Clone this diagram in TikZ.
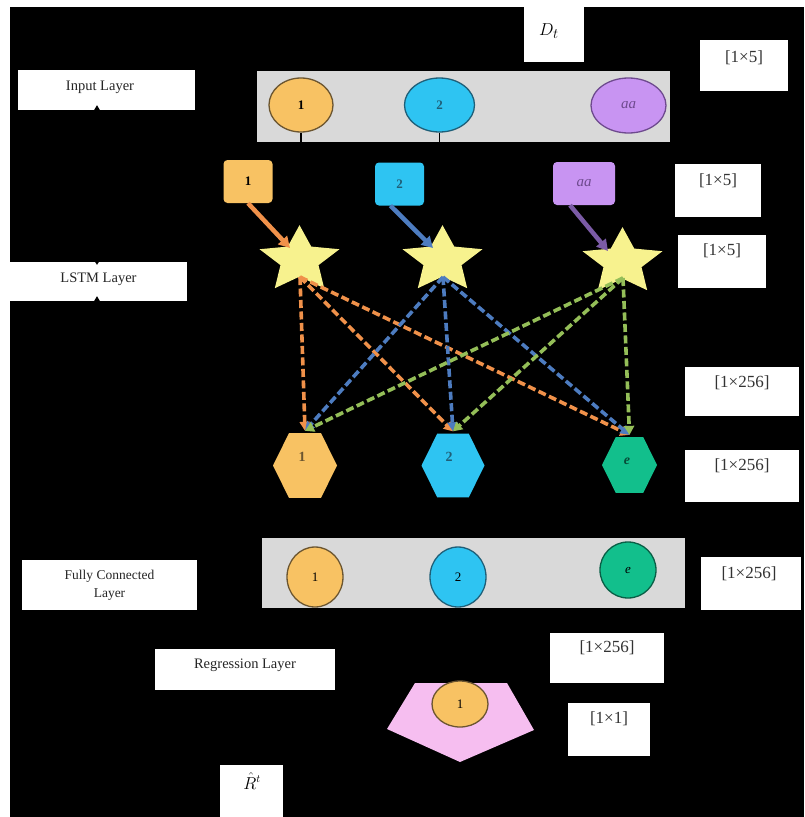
\documentclass[tikz,border=0pt]{standalone}
\usepackage{fontspec}
\setmainfont{Liberation Serif}
\usetikzlibrary{shapes.geometric,arrows.meta}
\definecolor{orF}{HTML}{F8C263}
\definecolor{orD}{HTML}{6B5530}
\definecolor{cyF}{HTML}{2EC4F2}
\definecolor{cyD}{HTML}{1F5F78}
\definecolor{puF}{HTML}{C894F2}
\definecolor{puD}{HTML}{6E4A8E}
\definecolor{grF}{HTML}{12BF8C}
\definecolor{piF}{HTML}{F6BEF0}
\definecolor{stF}{HTML}{F7F28E}
\definecolor{gyF}{HTML}{D9D9D9}
\definecolor{arO}{HTML}{F0914A}
\definecolor{arB}{HTML}{4D7CC0}
\definecolor{arP}{HTML}{7B5BA6}
\definecolor{arG}{HTML}{94BE58}
\begin{document}
\begin{tikzpicture}[x=1pt,y=-1pt,
  wbox/.style={fill=white,inner sep=0pt},
  txt/.style={inner sep=0pt,font=\fontsize{17}{19}\selectfont,text=black!80},
  lyr/.style={inner sep=0pt,font=\fontsize{14.5}{18}\selectfont,align=center,text=black!85},
  ell/.style={ellipse,inner sep=0pt,line width=1.3pt,font=\fontsize{13}{15}\selectfont\bfseries},
  sq/.style={rounded corners=4pt,inner sep=0pt,minimum width=49pt,minimum height=43pt,font=\fontsize{13}{15}\selectfont\bfseries},
  gbox/.style={fill=gyF,inner sep=0pt},
  fat/.style={line width=4.5pt,-{Triangle[length=11pt,width=12pt]}},
  dsh/.style={line width=3.6pt,dash pattern=on 8pt off 3.5pt,-{Triangle[length=9pt,width=10pt]}},
  hex/.style={regular polygon,regular polygon sides=6,inner sep=0pt,transform shape},
  starsh/.style={star,star points=5,star point ratio=2.1,minimum size=84pt,inner sep=0pt,fill=stF,transform shape}
]
\useasboundingbox (0,0) rectangle (804,817);
\fill[white] (0,0) rectangle (804,817);
\fill[black] (10,7) rectangle (804,817);

% ---- label boxes ----
\node[wbox,minimum width=177pt,minimum height=40pt] (inlayer) at (106.5,90) {};
\node[lyr] (inlayert) at (100,87) {Input Layer};
\fill[black] ([xshift=-12.5pt]inlayer.south) -- ([xshift=-9.5pt,yshift=5pt]inlayer.south) -- ([xshift=-6.5pt]inlayer.south) -- cycle;

\node[wbox,minimum width=60pt,minimum height=55pt] (dt) at (553.5,34.5) {};
\node[inner sep=0pt,font=\fontsize{19}{21}\selectfont] (dtt) at (549,31) {$D_t$};

\node[wbox,minimum width=88pt,minimum height=51pt] (b1) at (744,65.5) {};
\node[txt] (b1t) at (744,58) {[1×5]};

\node[wbox,minimum width=86pt,minimum height=53pt] (b2) at (718,190) {};
\node[txt] (b2t) at (718,181) {[1×5]};

\node[wbox,minimum width=88pt,minimum height=53pt] (b3) at (722,261.5) {};
\node[txt] (b3t) at (722,251) {[1×5]};

\node[wbox,minimum width=177pt,minimum height=39pt] (lstm) at (98.5,281.5) {};
\node[lyr] (lstmt) at (98.5,279) {LSTM Layer};
\fill[black] ([xshift=-4.5pt]lstm.south) -- ([xshift=-1.5pt,yshift=5pt]lstm.south) -- ([xshift=1.5pt]lstm.south) -- cycle;
\fill[black] ([xshift=-3.5pt]lstm.north) -- ([xshift=-1.5pt,yshift=-3pt]lstm.north) -- ([xshift=0.5pt]lstm.north) -- cycle;

\node[wbox,minimum width=114pt,minimum height=49pt] (b4) at (742,391.5) {};
\node[txt] (b4t) at (742,383) {[1×256]};

\node[wbox,minimum width=114pt,minimum height=52pt] (b5) at (742,476) {};
\node[txt] (b5t) at (742,466) {[1×256]};

\node[wbox,minimum width=175pt,minimum height=50pt] (fc) at (109.5,585) {};
\node[lyr,font=\fontsize{13.5}{18}\selectfont] (fct) at (109.5,585) {Fully Connected\\Layer};

\node[wbox,minimum width=100pt,minimum height=53pt] (b6) at (751,583.5) {};
\node[txt] (b6t) at (749,574) {[1×256]};

\node[wbox,minimum width=180pt,minimum height=41pt] (reg) at (245,669.5) {};
\node[lyr] (regt) at (245,665) {Regression Layer};

\node[wbox,minimum width=114pt,minimum height=50pt] (b7) at (607,658) {};
\node[txt] (b7t) at (607,648) {[1×256]};

\node[wbox,minimum width=82pt,minimum height=53pt] (b8) at (609,729.5) {};
\node[txt] (b8t) at (609,719) {[1×1]};

\node[wbox,minimum width=63pt,minimum height=52pt] (rh) at (251.5,791) {};
\node[inner sep=0pt,font=\fontsize{16}{18}\selectfont] (rht) at (252,781) {$\hat{R}^{t}$};

% ---- input layer ----
\node[gbox,minimum width=413pt,minimum height=71pt] (inrect) at (463.5,106.5) {};
\node[ell,fill=orF,draw=orD,minimum width=64pt,minimum height=54pt] (i1) at (301,105) {1};
\node[ell,fill=cyF,draw=cyD,minimum width=70pt,minimum height=54pt,text=cyD] (i2) at (439.5,105) {2};
\node[ell,fill=puF,draw=puD,minimum width=75pt,minimum height=55pt,text=puD,font=\fontsize{15}{17}\selectfont\itshape] (i3) at (628.5,105.5) {aa};
\draw[line width=1.2pt] (i1.south) -- (i1.south |- inrect.south);
\draw[line width=1.2pt] (i2.south) -- (i2.south |- inrect.south);
\draw[line width=1.2pt] ([xshift=-4pt,yshift=-5pt]inrect.south east -| i3.south) -- ++(0,9);

% ---- small squares ----
\node[sq,fill=orF] (q1) at (248,181.5) {1};
\node[sq,fill=cyF,text=cyD] (q2) at (399.5,184) {2};
\node[sq,fill=puF,text=puD,minimum width=62pt,font=\fontsize{15}{17}\selectfont\itshape] (q3) at (584,183.5) {aa};

% ---- stars ----
\begin{scope}[shift={(299.5,260)},yscale=0.83]
  \node[starsh] (s1) at (0,0) {};
\end{scope}
\begin{scope}[shift={(442.5,260)},yscale=0.83]
  \node[starsh] (s2) at (0,0) {};
\end{scope}
\begin{scope}[shift={(622.5,262)},yscale=0.83]
  \node[starsh] (s3) at (0,0) {};
\end{scope}

\coordinate (a1) at (290,248);
\coordinate (a2) at (433,248);
\coordinate (a3) at (608,251);
\draw[fat,arO] (q1.south) -- (a1);
\draw[fat,arB] ([xshift=-9pt]q2.south) -- (a2);
\draw[fat,arP] ([xshift=-14pt]q3.south) -- (a3);

% ---- hexagons ----
\begin{scope}[shift={(305,465.5)},yscale=1.17]
  \node[hex,fill=orF,minimum size=64pt] (h1) at (0,0) {};
\end{scope}
\begin{scope}[shift={(453,465.5)},yscale=1.17]
  \node[hex,fill=cyF,minimum size=63pt] (h2) at (0,0) {};
\end{scope}
\begin{scope}[shift={(629.5,465)},yscale=1.17]
  \node[hex,fill=grF,minimum size=55pt] (h3) at (0,0) {};
\end{scope}
\node[inner sep=0pt,font=\fontsize{14}{16}\selectfont\bfseries,text=orD] (h1t) at (302,457) {1};
\node[inner sep=0pt,font=\fontsize{14}{16}\selectfont\bfseries,text=cyD] (h2t) at (449,457) {2};
\node[inner sep=0pt,font=\fontsize{14}{16}\selectfont\itshape\bfseries,text=black!60!grF] (h3t) at (627,461) {e};

% ---- dashed connections ----
\coordinate (s1b) at (300,277);
\coordinate (s2b) at (443,277);
\coordinate (s3b) at (623,278);
\foreach \h in {h1,h2,h3}{
  \draw[dsh,arO] (s1b) -- ([yshift=2pt]\h.north);
}
\foreach \h in {h1,h2,h3}{
  \draw[dsh,arB] (s2b) -- ([yshift=2pt]\h.north);
}
\foreach \h in {h1,h2,h3}{
  \draw[dsh,arG] (s3b) -- ([yshift=2pt]\h.north);
}

% ---- fully connected layer ----
\node[gbox,minimum width=423pt,minimum height=70pt] (fcrect) at (473.5,573) {};
\node[ell,fill=orF,draw=orD,minimum width=56pt,minimum height=60pt,font=\fontsize{13}{15}\selectfont] (f1) at (315,577) {1};
\node[ell,fill=cyF,draw=cyD,minimum width=56pt,minimum height=60pt,font=\fontsize{13}{15}\selectfont] (f2) at (458,577) {2};
\node[ell,fill=grF,draw=black!50!grF,minimum width=56pt,minimum height=56pt,font=\fontsize{13}{15}\selectfont\itshape] (f3) at (628,570) {e};

% ---- regression layer ----
\fill[piF] (415,683) -- (507,683) -- (534,730) -- (460,762) -- (387,729) -- cycle;
\node[ell,fill=orF,draw=orD,minimum width=56pt,minimum height=46pt,font=\fontsize{13}{15}\selectfont] (r1) at (460,704) {1};
\end{tikzpicture}
\end{document}
